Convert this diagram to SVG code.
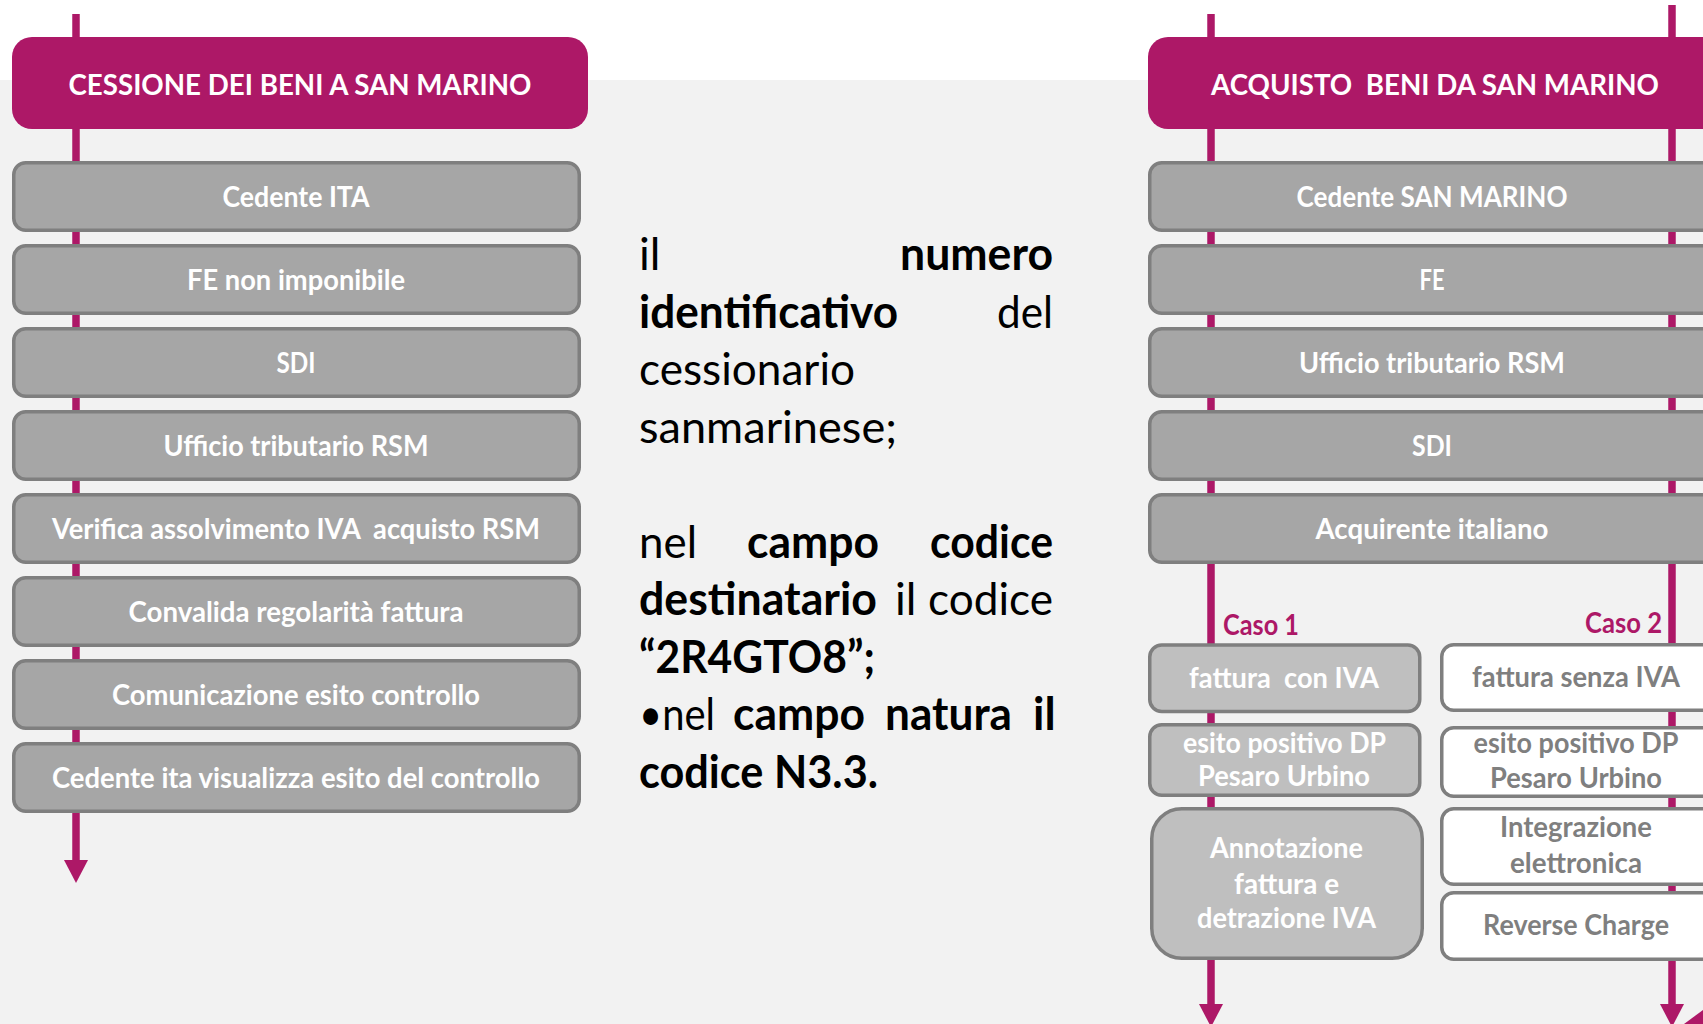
<svg xmlns="http://www.w3.org/2000/svg" width="1703" height="1024" viewBox="0 0 1703 1024">
<style>
.hdr{fill:#ad1867}
.hdrt{font-family:Lato,"Liberation Sans",sans-serif;font-weight:700;font-size:29px;fill:#ffffff;text-anchor:middle}
.box{fill:#a6a6a6;stroke:#7f7f7f;stroke-width:3.5}
.box1{fill:#bfbfbf;stroke:#7f7f7f;stroke-width:3.5}
.box2{fill:#ffffff;stroke:#7f7f7f;stroke-width:3.5}
.bt{font-family:Lato,"Liberation Sans",sans-serif;font-weight:700;font-size:28px;fill:#ffffff;text-anchor:middle}
.bt2{font-family:Lato,"Liberation Sans",sans-serif;font-weight:700;font-size:28px;fill:#7f7f7f;text-anchor:middle}
.caso{font-family:Lato,"Liberation Sans",sans-serif;font-weight:700;font-size:28px;fill:#ad1867}
.mt{font-family:Lato,"Liberation Sans",sans-serif;font-size:45px;fill:#000000}
.b{font-weight:700}
.ln{stroke:#ad1867;stroke-width:7.5;fill:none;marker-end:url(#ah)}
</style>
<defs>
<marker id="ah" markerUnits="userSpaceOnUse" markerWidth="24" markerHeight="24" refX="0" refY="12" orient="auto">
<path d="M0,0 L23,12 L0,24 z" fill="#ad1867"/>
</marker>
</defs>
<rect x="0" y="0" width="1703" height="1024" fill="#ffffff"/>
<rect x="0" y="80" width="1703" height="944" fill="#f2f2f2"/>

<g id="connectors">
<line class="ln" x1="76" y1="14" x2="76" y2="860"/>
<line class="ln" x1="1211" y1="14" x2="1211" y2="1004"/>
<line class="ln" x1="1672" y1="5" x2="1672" y2="1004"/>
<polygon points="1684,1024 1703,1010 1703,1024" fill="#ad1867"/>
</g>

<g id="hdr-left">
<rect class="hdr" x="12" y="37" width="576" height="92" rx="20"/>
<text class="hdrt" x="300" y="95" textLength="463" lengthAdjust="spacingAndGlyphs">CESSIONE DEI BENI A SAN MARINO</text>
</g>
<g id="l1"><rect class="box" x="13.75" y="162.75" width="565.5" height="67.5" rx="12"/><text class="bt" x="296" y="207" textLength="147" lengthAdjust="spacingAndGlyphs">Cedente ITA</text></g>
<g id="l2"><rect class="box" x="13.75" y="245.75" width="565.5" height="67.5" rx="12"/><text class="bt" x="296" y="290" textLength="218" lengthAdjust="spacingAndGlyphs">FE non imponibile</text></g>
<g id="l3"><rect class="box" x="13.75" y="328.75" width="565.5" height="67.5" rx="12"/><text class="bt" x="296" y="373" textLength="39" lengthAdjust="spacingAndGlyphs">SDI</text></g>
<g id="l4"><rect class="box" x="13.75" y="411.75" width="565.5" height="67.5" rx="12"/><text class="bt" x="296" y="456" textLength="265" lengthAdjust="spacingAndGlyphs">Ufficio tributario RSM</text></g>
<g id="l5"><rect class="box" x="13.75" y="494.75" width="565.5" height="67.5" rx="12"/><text class="bt" x="296" y="539" textLength="488" lengthAdjust="spacingAndGlyphs" xml:space="preserve">Verifica assolvimento IVA  acquisto RSM</text></g>
<g id="l6"><rect class="box" x="13.75" y="577.75" width="565.5" height="67.5" rx="12"/><text class="bt" x="296" y="622" textLength="335" lengthAdjust="spacingAndGlyphs">Convalida regolarità fattura</text></g>
<g id="l7"><rect class="box" x="13.75" y="660.75" width="565.5" height="67.5" rx="12"/><text class="bt" x="296" y="705" textLength="368" lengthAdjust="spacingAndGlyphs">Comunicazione esito controllo</text></g>
<g id="l8"><rect class="box" x="13.75" y="743.75" width="565.5" height="67.5" rx="12"/><text class="bt" x="296" y="788" textLength="488" lengthAdjust="spacingAndGlyphs">Cedente ita visualizza esito del controllo</text></g>

<g id="middle-text" class="mt">
<text x="639" y="270">il</text>
<text class="b" x="900" y="270" textLength="153" lengthAdjust="spacingAndGlyphs">numero</text>
<text class="b" x="639" y="327.5" textLength="259" lengthAdjust="spacingAndGlyphs">identificativo</text>
<text x="997" y="327.5" textLength="56" lengthAdjust="spacingAndGlyphs">del</text>
<text x="639" y="385" textLength="216" lengthAdjust="spacingAndGlyphs">cessionario</text>
<text x="639" y="442.5" textLength="258" lengthAdjust="spacingAndGlyphs">sanmarinese;</text>
<text x="639" y="557.5" textLength="58" lengthAdjust="spacingAndGlyphs">nel</text>
<text class="b" x="747" y="557.5" textLength="132" lengthAdjust="spacingAndGlyphs">campo</text>
<text class="b" x="930" y="557.5" textLength="123" lengthAdjust="spacingAndGlyphs">codice</text>
<text class="b" x="639" y="615" textLength="238" lengthAdjust="spacingAndGlyphs">destinatario</text>
<text x="895" y="615">il</text>
<text x="928" y="615" textLength="125" lengthAdjust="spacingAndGlyphs">codice</text>
<text class="b" x="639" y="672.5" textLength="236" lengthAdjust="spacingAndGlyphs">“2R4GTO8”;</text>
<text x="639" y="730" textLength="76" lengthAdjust="spacingAndGlyphs">•nel</text>
<text class="b" x="733" y="730" textLength="132" lengthAdjust="spacingAndGlyphs">campo</text>
<text class="b" x="885" y="730" textLength="127" lengthAdjust="spacingAndGlyphs">natura</text>
<text class="b" x="1033" y="730">il</text>
<text class="b" x="639" y="787.5" textLength="239" lengthAdjust="spacingAndGlyphs">codice N3.3.</text>
</g>

<g id="hdr-right">
<rect class="hdr" x="1148" y="37" width="580" height="92" rx="20"/>
<text class="hdrt" x="1435" y="95" textLength="448" lengthAdjust="spacingAndGlyphs" xml:space="preserve">ACQUISTO  BENI DA SAN MARINO</text>
</g>
<g id="r1"><rect class="box" x="1149.75" y="162.75" width="575" height="67.5" rx="12"/><text class="bt" x="1432" y="207" textLength="271" lengthAdjust="spacingAndGlyphs">Cedente SAN MARINO</text></g>
<g id="r2"><rect class="box" x="1149.75" y="245.75" width="575" height="67.5" rx="12"/><text class="bt" x="1432" y="290" textLength="25" lengthAdjust="spacingAndGlyphs">FE</text></g>
<g id="r3"><rect class="box" x="1149.75" y="328.75" width="575" height="67.5" rx="12"/><text class="bt" x="1432" y="373" textLength="266" lengthAdjust="spacingAndGlyphs">Ufficio tributario RSM</text></g>
<g id="r4"><rect class="box" x="1149.75" y="411.75" width="575" height="67.5" rx="12"/><text class="bt" x="1432" y="456" textLength="40" lengthAdjust="spacingAndGlyphs">SDI</text></g>
<g id="r5"><rect class="box" x="1149.75" y="494.75" width="575" height="67.5" rx="12"/><text class="bt" x="1432" y="539" textLength="233" lengthAdjust="spacingAndGlyphs">Acquirente italiano</text></g>

<g id="caso1-label"><text class="caso" x="1223" y="635" textLength="76" lengthAdjust="spacingAndGlyphs">Caso 1</text></g>
<g id="caso2-label"><text class="caso" x="1585" y="633" textLength="77" lengthAdjust="spacingAndGlyphs">Caso 2</text></g>

<g id="c1a"><rect class="box1" x="1149.75" y="645" width="270" height="66.5" rx="12"/><text class="bt" x="1284" y="688" textLength="190" lengthAdjust="spacingAndGlyphs" xml:space="preserve">fattura  con IVA</text></g>
<g id="c1b"><rect class="box1" x="1149.75" y="724.75" width="270" height="70.5" rx="12"/><text class="bt" x="1284.5" y="753" textLength="203" lengthAdjust="spacingAndGlyphs">esito positivo DP</text><text class="bt" x="1284" y="786" textLength="172" lengthAdjust="spacingAndGlyphs">Pesaro Urbino</text></g>
<g id="c1c"><rect class="box1" x="1151.75" y="808.75" width="270.5" height="149.5" rx="30"/><text class="bt" x="1286.5" y="858" textLength="153" lengthAdjust="spacingAndGlyphs">Annotazione</text><text class="bt" x="1286.5" y="894" textLength="105" lengthAdjust="spacingAndGlyphs">fattura e</text><text class="bt" x="1286.5" y="928" textLength="179" lengthAdjust="spacingAndGlyphs">detrazione IVA</text></g>

<g id="c2a"><rect class="box2" x="1441.75" y="644.75" width="280" height="65.5" rx="12"/><text class="bt2" x="1576" y="687" textLength="208" lengthAdjust="spacingAndGlyphs">fattura senza IVA</text></g>
<g id="c2b"><rect class="box2" x="1441.75" y="727.75" width="280" height="68.5" rx="12"/><text class="bt2" x="1576" y="753" textLength="205" lengthAdjust="spacingAndGlyphs">esito positivo DP</text><text class="bt2" x="1576" y="788" textLength="172" lengthAdjust="spacingAndGlyphs">Pesaro Urbino</text></g>
<g id="c2c"><rect class="box2" x="1441.75" y="808.75" width="280" height="75.5" rx="12"/><text class="bt2" x="1576" y="837" textLength="152" lengthAdjust="spacingAndGlyphs">Integrazione</text><text class="bt2" x="1576" y="873" textLength="132" lengthAdjust="spacingAndGlyphs">elettronica</text></g>
<g id="c2d"><rect class="box2" x="1441.75" y="892.75" width="280" height="66.5" rx="12"/><text class="bt2" x="1576" y="935" textLength="186" lengthAdjust="spacingAndGlyphs">Reverse Charge</text></g>
</svg>
